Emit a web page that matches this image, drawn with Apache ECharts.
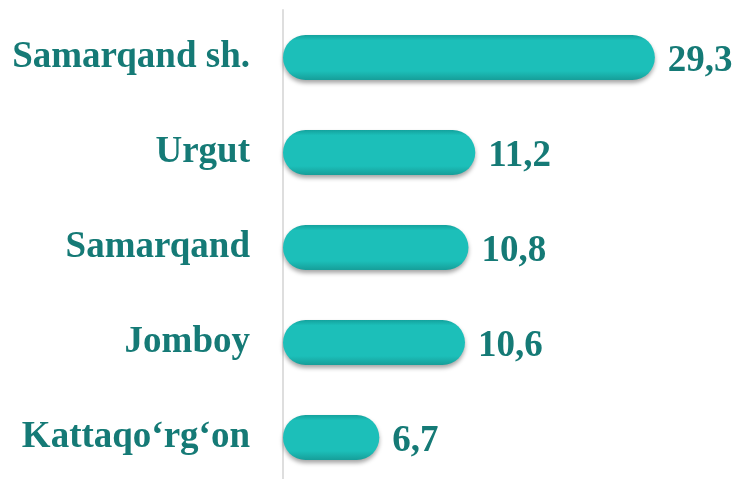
<!DOCTYPE html>
<html>
<head>
<meta charset="utf-8">
<script src="https://cdn.jsdelivr.net/npm/echarts@6/dist/echarts.min.js"></script>
<style>
  html, body { margin: 0; padding: 0; background: #ffffff; overflow: hidden; }
  #chart { width: 736px; height: 486px; }
</style>
</head>
<body>
<div id="chart"></div>
<script>
const categories = ['Samarqand sh.', 'Urgut', 'Samarqand', 'Jomboy', 'Kattaqo\u2018rg\u2018on'];
const values = [29.3, 11.2, 10.8, 10.6, 6.7];

const textColor = '#157a76';
const fontFamily = '"Liberation Serif", "Times New Roman", serif';

const chart = echarts.init(document.getElementById('chart'));

chart.setOption({
    animation: false,
    grid: { left: 283, top: 10, width: 430, height: 475 },
    xAxis: {
        type: 'log',
        min: 4,
        max: 40,
        show: false
    },
    yAxis: {
        type: 'category',
        data: categories,
        inverse: true,
        axisLine: { show: true, lineStyle: { color: '#dedede', width: 2 } },
        axisTick: { show: false },
        axisLabel: {
            margin: 33,
            color: textColor,
            fontFamily: fontFamily,
            fontWeight: 'bold',
            fontSize: 37
        }
    },
    series: [{
        type: 'bar',
        data: values,
        barWidth: 45,
        itemStyle: {
            borderRadius: 22.5,
            color: new echarts.graphic.LinearGradient(0, 0, 0, 1, [
                { offset: 0, color: '#14a29d' },
                { offset: 0.12, color: '#1cbfb9' },
                { offset: 0.8, color: '#1cbfb9' },
                { offset: 1, color: '#169e99' }
            ]),
            shadowColor: 'rgba(0, 0, 0, 0.35)',
            shadowBlur: 4,
            shadowOffsetY: 3
        },
        label: {
            show: true,
            position: 'right',
            distance: 13,
            offset: [0, 4],
            color: textColor,
            fontFamily: fontFamily,
            fontWeight: 'bold',
            fontSize: 37,
            formatter: p => String(p.value).replace('.', ',')
        }
    }]
});
</script>
</body>
</html>
